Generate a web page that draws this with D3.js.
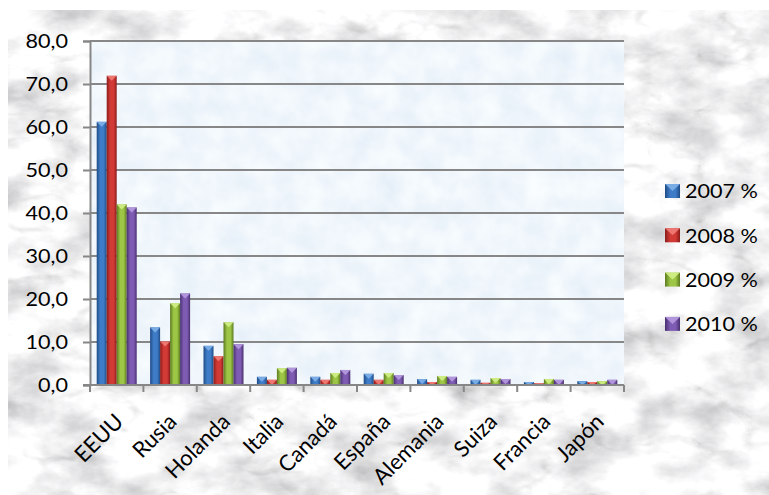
<!DOCTYPE html>
<html>
<head>
<meta charset="utf-8">
<script src="https://cdn.jsdelivr.net/npm/d3@7"></script>
<style>
  body { margin: 0; background: #fff; }
  svg text { font-family: Lato, "Open Sans", sans-serif; fill: #000; }
</style>
</head>
<body>
<div id="chart"></div>
<script>
// data
const countries = ["EEUU", "Rusia", "Holanda", "Italia", "Canadá", "España", "Alemania", "Suiza", "Francia", "Japón"];
const seriesNames = ["2007 %", "2008 %", "2009 %", "2010 %"];
const v2007 = [61.2, 13.4, 9.1, 1.9, 1.9, 2.6, 1.4, 1.2, 0.7, 0.9];
const v2008 = [71.9, 10.1, 6.7, 1.2, 1.2, 1.2, 0.7, 0.5, 0.4, 0.7];
const v2009 = [42.0, 19.0, 14.6, 3.9, 2.8, 2.8, 2.1, 1.6, 1.4, 0.9];
const v2010 = [41.3, 21.3, 9.5, 4.0, 3.5, 2.3, 1.9, 1.4, 1.2, 1.2];
const yTicks = [0, 10, 20, 30, 40, 50, 60, 70, 80];

const seriesValues = [v2007, v2008, v2009, v2010];
const palette = [
  { dark: "#1f4b85", mid: "#3f7cc8", cap: "#7fb0e8" },
  { dark: "#8a1c1a", mid: "#d23a35", cap: "#f07d78" },
  { dark: "#5b7a1f", mid: "#9dc646", cap: "#d2ee86" },
  { dark: "#48306f", mid: "#7f5cb3", cap: "#b79be0" }
];

const W = 769, H = 495;
const plot = { left: 90, top: 41, right: 624, bottom: 385 };

const svg = d3.select("#chart").append("svg")
  .attr("width", W)
  .attr("height", H);

const defs = svg.append("defs");

// marble look for the chart area: cloudy gray plus faint veins
const marble = defs.append("filter").attr("id", "marble")
  .attr("x", 0).attr("y", 0).attr("width", 1).attr("height", 1);
marble.append("feTurbulence")
  .attr("type", "fractalNoise")
  .attr("baseFrequency", "0.018 0.028")
  .attr("numOctaves", 5)
  .attr("seed", 11)
  .attr("result", "cloud");
marble.append("feColorMatrix")
  .attr("in", "cloud")
  .attr("type", "matrix")
  .attr("values", "0.95 0 0 0 0.43  0.95 0 0 0 0.43  0.95 0 0 0 0.44  0 0 0 0 1")
  .attr("result", "cloudGray");
marble.append("feTurbulence")
  .attr("type", "turbulence")
  .attr("baseFrequency", "0.01 0.018")
  .attr("numOctaves", 4)
  .attr("seed", 5)
  .attr("result", "vein");
marble.append("feColorMatrix")
  .attr("in", "vein")
  .attr("type", "matrix")
  .attr("values", "1.2 0 0 0 0.78  1.2 0 0 0 0.78  1.2 0 0 0 0.78  0 0 0 0 1")
  .attr("result", "veinGray");
marble.append("feBlend")
  .attr("in", "cloudGray")
  .attr("in2", "veinGray")
  .attr("mode", "multiply");

// pale blue paper for the plot area
const paper = defs.append("filter").attr("id", "paper")
  .attr("x", 0).attr("y", 0).attr("width", 1).attr("height", 1);
paper.append("feTurbulence")
  .attr("type", "fractalNoise")
  .attr("baseFrequency", "0.04")
  .attr("numOctaves", 3)
  .attr("seed", 3);
paper.append("feColorMatrix")
  .attr("type", "matrix")
  .attr("values", "0.2 0 0 0 0.77  0.15 0 0 0 0.85  0.07 0 0 0 0.935  0 0 0 0 1");

palette.forEach((p, i) => {
  const g = defs.append("linearGradient").attr("id", "bar" + i)
    .attr("x1", 0).attr("x2", 1).attr("y1", 0).attr("y2", 0);
  g.append("stop").attr("offset", "0%").attr("stop-color", p.dark);
  g.append("stop").attr("offset", "35%").attr("stop-color", p.mid);
  g.append("stop").attr("offset", "70%").attr("stop-color", p.mid);
  g.append("stop").attr("offset", "100%").attr("stop-color", p.dark);
});

svg.append("rect")
  .attr("x", 8).attr("y", 10)
  .attr("width", W - 8).attr("height", H - 10)
  .attr("filter", "url(#marble)");

svg.append("rect")
  .attr("x", plot.left).attr("y", plot.top)
  .attr("width", plot.right - plot.left).attr("height", plot.bottom - plot.top)
  .attr("filter", "url(#paper)");

// scales
const x0 = d3.scaleBand()
  .domain(countries)
  .range([plot.left, plot.right])
  .paddingInner(0)
  .paddingOuter(0);

const x1 = d3.scaleBand()
  .domain(seriesNames)
  .range([0, x0.bandwidth()])
  .paddingOuter(0.67)
  .paddingInner(0);

const y = d3.scaleLinear()
  .domain([0, 80])
  .range([plot.bottom, plot.top]);

const es = d3.formatLocale({ decimal: ",", thousands: ".", grouping: [3], currency: ["", "€"] });
const fmt = es.format(".1f");

// gridlines
svg.append("g")
  .selectAll("line")
  .data(yTicks.filter(d => d > 0))
  .join("line")
  .attr("x1", plot.left).attr("x2", plot.right)
  .attr("y1", d => y(d)).attr("y2", d => y(d))
  .attr("stroke", "#878787")
  .attr("stroke-width", 2);

// y axis
const yAxis = svg.append("g")
  .attr("transform", `translate(${plot.left},0)`)
  .call(d3.axisLeft(y).tickValues(yTicks).tickFormat(fmt).tickSize(7).tickPadding(15));
yAxis.select(".domain").attr("stroke", "#878787").attr("stroke-width", 2);
yAxis.selectAll(".tick line").attr("stroke", "#878787").attr("stroke-width", 2);
yAxis.selectAll("text")
  .attr("x", null)
  .attr("transform", "translate(-22,0) scale(1.08,0.95)")
  .style("font-size", "20px");

// bars
const groups = svg.append("g")
  .selectAll("g")
  .data(countries)
  .join("g")
  .attr("transform", d => `translate(${x0(d)},0)`);

groups.each(function (c, ci) {
  const g = d3.select(this);
  seriesNames.forEach((s, si) => {
    const v = seriesValues[si][ci];
    const bx = x1(s), bw = x1.bandwidth();
    const top = y(v), h = y(0) - y(v);
    g.append("rect")
      .attr("x", bx).attr("y", top)
      .attr("width", bw).attr("height", h)
      .attr("fill", `url(#bar${si})`);
    const capH = Math.min(5, h);
    g.append("path")
      .attr("d", `M${bx},${top}L${bx + bw},${top}L${bx + bw / 2},${top + capH}Z`)
      .attr("fill", palette[si].cap)
      .attr("opacity", 0.9);
  });
});

// x axis
const xAxis = svg.append("g")
  .attr("transform", `translate(0,${plot.bottom})`)
  .call(d3.axisBottom(x0).tickSize(0).tickPadding(0));
xAxis.select(".domain").remove();
xAxis.append("line")
  .attr("x1", plot.left - 7).attr("x2", plot.right)
  .attr("stroke", "#878787").attr("stroke-width", 2);
xAxis.selectAll(".tickmark")
  .data(d3.range(countries.length + 1))
  .join("line")
  .attr("class", "tickmark")
  .attr("x1", i => plot.left + i * x0.bandwidth())
  .attr("x2", i => plot.left + i * x0.bandwidth())
  .attr("y1", 0).attr("y2", 7)
  .attr("stroke", "#878787").attr("stroke-width", 2);
xAxis.selectAll(".tick text")
  .attr("dy", null)
  .attr("y", 0)
  .attr("transform", "translate(4,34) rotate(-45)")
  .style("text-anchor", "end")
  .attr("dominant-baseline", "middle")
  .style("font-size", "22px");

// legend
const legend = svg.append("g")
  .attr("transform", "translate(665,191)");
const items = legend.selectAll("g")
  .data(seriesNames)
  .join("g")
  .attr("transform", (d, i) => `translate(0,${i * 44.3})`);
items.append("rect")
  .attr("x", 0).attr("y", -7)
  .attr("width", 15).attr("height", 14)
  .attr("fill", (d, i) => `url(#bar${i})`);
items.append("path")
  .attr("d", "M0,-7L15,-7L7.5,0Z")
  .attr("fill", (d, i) => palette[i].cap)
  .attr("opacity", 0.9);
items.append("text")
  .attr("transform", "translate(20,0) scale(1.08,0.95)")
  .attr("dominant-baseline", "central")
  .style("font-size", "20px")
  .text(d => d);
</script>
</body>
</html>
